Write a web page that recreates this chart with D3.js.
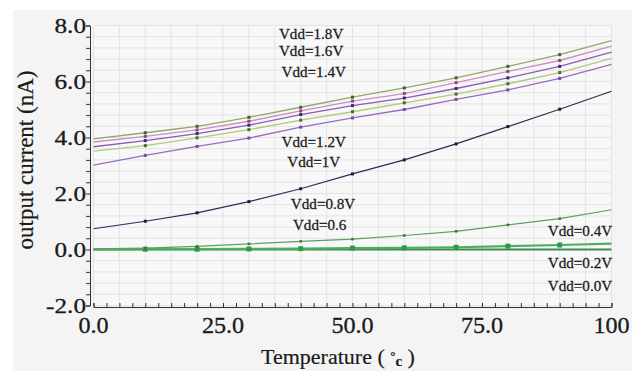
<!DOCTYPE html>
<html>
<head>
<meta charset="utf-8">
<script src="https://cdn.jsdelivr.net/npm/d3@7"></script>
<style>
  body { margin: 0; background: #fff; }
  text { font-family: "Liberation Serif", "Times New Roman", serif; fill: #1a1a1a; }
</style>
</head>
<body>
<div id="chart"></div>
<script>
// temperature steps (deg C)
const temps = [0, 10, 20, 30, 40, 50, 60, 70, 80, 90, 100];

// output current (nA) per supply voltage
const vdd18 = [3.95, 4.17, 4.40, 4.72, 5.08, 5.44, 5.77, 6.13, 6.54, 6.96, 7.46];
const vdd16 = [3.84, 4.04, 4.27, 4.58, 4.95, 5.30, 5.57, 5.96, 6.36, 6.75, 7.26];
const vdd14 = [3.67, 3.89, 4.14, 4.44, 4.82, 5.14, 5.41, 5.75, 6.13, 6.54, 7.05];
const vdd12 = [3.51, 3.71, 3.99, 4.28, 4.62, 4.92, 5.24, 5.55, 5.92, 6.32, 6.83];
const vdd10 = [3.01, 3.36, 3.68, 3.98, 4.37, 4.70, 5.00, 5.36, 5.70, 6.11, 6.61];
const vdd08 = [0.74, 1.01, 1.31, 1.71, 2.17, 2.70, 3.20, 3.77, 4.39, 5.01, 5.65];
const vdd04 = [0.02, 0.05, 0.11, 0.20, 0.29, 0.37, 0.50, 0.65, 0.88, 1.10, 1.42];
const vdd02 = [0.00, 0.01, 0.01, 0.02, 0.03, 0.05, 0.06, 0.08, 0.12, 0.16, 0.21];
const vdd00 = [0, 0, 0, 0, 0, 0, 0, 0, 0, 0, 0];

const xTicks = [0, 25, 50, 75, 100];
const xTickLabels = ["0.0", "25.0", "50.0", "75.0", "100"];
const yTicks = [-2, 0, 2, 4, 6, 8];

// curve labels: text, temperature, current (text baseline)
const labelText = ["Vdd=1.8V", "Vdd=1.6V", "Vdd=1.4V", "Vdd=1.2V", "Vdd=1V",
                   "Vdd=0.8V", "Vdd=0.6", "Vdd=0.4V", "Vdd=0.2V", "Vdd=0.0V"];
const labelT = [35.8, 35.8, 36.3, 36.3, 37.4, 38.1, 38.5, 87.7, 87.7, 87.7];
const labelV = [7.52, 6.91, 6.16, 3.67, 2.96, 1.44, 0.70, 0.48, -0.67, -1.48];

const W = 637, H = 371;
const svg = d3.select("#chart").append("svg")
  .attr("width", W).attr("height", H);

// grey panel behind the chart
svg.append("rect").attr("x", 13).attr("y", 10)
  .attr("width", 619).attr("height", 361).attr("fill", "#f4f4f4");

const x = d3.scaleLinear().domain([0, 100]).range([93.5, 611.5]);
const y = d3.scaleLinear().domain([-2, 8]).range([305.5, 25.5]);

// plot area + grid
svg.append("rect").attr("x", x(0)).attr("y", y(8))
  .attr("width", x(100) - x(0)).attr("height", y(-2) - y(8))
  .attr("fill", "#f8f8f8");

const grid = svg.append("g");
grid.selectAll(".gv").data(d3.range(0, 100.1, 5)).enter().append("line")
  .attr("x1", d => x(d)).attr("x2", d => x(d))
  .attr("y1", y(8)).attr("y2", y(-2))
  .attr("stroke", "#e4e4e4").attr("stroke-width", 1);
grid.selectAll(".gh").data(d3.range(-2, 8.01, 0.4)).enter().append("line")
  .attr("x1", x(0)).attr("x2", x(100))
  .attr("y1", d => y(d)).attr("y2", d => y(d))
  .attr("stroke", "#e4e4e4").attr("stroke-width", 1);

// axes
const xAxis = d3.axisBottom(x).tickValues(d3.range(0, 100.1, 2.5))
  .tickSize(-4).tickFormat("");
svg.append("g").attr("transform", `translate(0,${y(-2) + 1.5})`).call(xAxis)
  .call(g => g.selectAll("path, line").attr("stroke", "#333"));

const yAxis = d3.axisLeft(y).tickValues(d3.range(-2, 8.01, 0.4))
  .tickSize(4).tickFormat("");
svg.append("g").attr("transform", "translate(90,0)").call(yAxis)
  .call(g => g.selectAll("path, line").attr("stroke", "#333"));

// tick labels
svg.append("g").selectAll("text").data(xTicks).enter().append("text")
  .attr("transform", d => `translate(${x(d)},333) scale(1.05,1)`)
  .attr("text-anchor", "middle")
  .style("font-size", "23px")
  .style("stroke", "#1a1a1a").style("stroke-width", 0.3)
  .text((d, i) => xTickLabels[i]);

svg.append("g").selectAll("text").data(yTicks).enter().append("text")
  .attr("transform", d => `translate(86,${y(d) + 7}) scale(1.2,1)`)
  .attr("text-anchor", "end")
  .style("font-size", "21px")
  .style("stroke", "#1a1a1a").style("stroke-width", 0.3)
  .text(d => d.toFixed(1));

// axis titles
svg.append("text")
  .attr("transform", "translate(33,160) rotate(-90)")
  .attr("text-anchor", "middle")
  .style("font-size", "23px")
  .style("stroke", "#1a1a1a").style("stroke-width", 0.2)
  .text("output current (nA)");

const xt = svg.append("text")
  .attr("transform", "translate(338,364)")
  .attr("text-anchor", "middle")
  .style("font-size", "22px")
  .style("stroke", "#1a1a1a").style("stroke-width", 0.2);
xt.append("tspan").text("Temperature ( ");
xt.append("tspan").style("font-size", "13px").style("font-weight", "bold")
  .attr("dy", -4).text("°");
xt.append("tspan").style("font-size", "15px").style("font-weight", "bold")
  .attr("dy", 6).text("c");
xt.append("tspan").attr("dy", -2).text(" )");

// curves
const series = [
  { values: vdd00, color: "#3f8a52", mark: "#3f8a52", w: 2.2, m: 0 },
  { values: vdd02, color: "#4fae5e", mark: "#2f9a45", w: 2.2, m: 5 },
  { values: vdd04, color: "#5d9e62", mark: "#3d6e45", w: 1.2, m: 2.5 },
  { values: vdd08, color: "#2c2c58", mark: "#1d1d3a", w: 1.2, m: 3 },
  { values: vdd10, color: "#9a6cc0", mark: "#7a4aa0", w: 1.3, m: 3 },
  { values: vdd12, color: "#b5c877", mark: "#4a6a2a", w: 1.3, m: 3 },
  { values: vdd14, color: "#8a5cb8", mark: "#3a2a70", w: 1.3, m: 3 },
  { values: vdd16, color: "#d38ac6", mark: "#8a4a80", w: 1.3, m: 3 },
  { values: vdd18, color: "#8daa68", mark: "#4a5a3a", w: 1.3, m: 3 }
];

const line = d3.line().x((d, i) => x(temps[i])).y(d => y(d));

series.forEach(s => {
  svg.append("path").datum(s.values)
    .attr("d", line)
    .attr("fill", "none")
    .attr("stroke", s.color)
    .attr("stroke-width", s.w);
  if (s.m > 0) {
    svg.append("g").selectAll("rect").data(s.values.slice(1, 10)).enter()
      .append("rect")
      .attr("x", (d, i) => x(temps[i + 1]) - s.m / 2)
      .attr("y", d => y(d) - s.m / 2)
      .attr("width", s.m).attr("height", s.m)
      .attr("fill", s.mark);
  }
});

// curve labels
svg.append("g").selectAll("text").data(labelText).enter().append("text")
  .attr("transform", (d, i) => `translate(${x(labelT[i])},${y(labelV[i])}) scale(1.08,1)`)
  .style("font-size", "14px")
  .style("stroke", "#1a1a1a").style("stroke-width", 0.25)
  .text(d => d);
</script>
</body>
</html>
